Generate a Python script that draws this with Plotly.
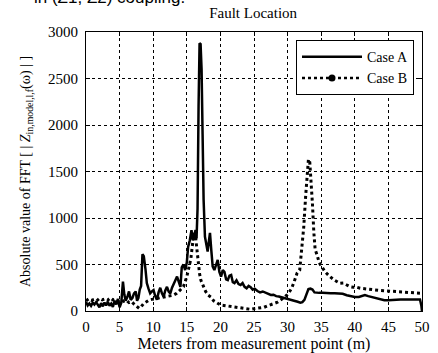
import plotly.graph_objects as go

# Case A (solid)
case_a_x = [0, 0.25, 0.5, 0.75, 1.0, 1.25, 1.5, 1.75, 2.0, 2.25, 2.5, 2.75, 3.0, 3.25, 3.5, 3.75,
            4.0, 4.25, 4.5, 4.75, 5.0, 5.25, 5.5, 5.7, 5.9, 6.15, 6.4, 6.65, 6.9, 7.15, 7.4, 7.6,
            7.8, 8.0, 8.2, 8.4, 8.6, 8.85, 9.05, 9.3, 9.55, 9.8, 10.05, 10.3, 10.55, 10.8, 11.05,
            11.3, 11.55, 11.8, 12.05, 12.3, 12.55, 12.8, 13.05, 13.3, 13.55, 13.8, 14.05, 14.25,
            14.5, 14.75, 15.0, 15.2, 15.45, 15.7, 15.9, 16.1, 16.3, 16.45, 16.6, 16.75, 16.9,
            17.05, 17.2, 17.35, 17.5, 17.7, 17.9, 18.1, 18.3, 18.45, 18.65, 18.85, 19.1, 19.35,
            19.6, 19.85, 20.1, 20.35, 20.6, 20.85, 21.1, 21.35, 21.6, 21.85, 22.1, 22.4, 22.7,
            23.0, 23.3, 23.6, 23.9, 24.2, 24.5, 24.8, 25.1, 25.5, 25.9, 26.3, 26.7, 27.1, 27.5,
            27.9, 28.3, 28.7, 29.1, 29.5, 29.9, 30.3, 30.7, 31.1, 31.5, 31.9, 32.2, 32.5, 32.8,
            33.1, 33.4, 33.7, 34.0, 34.3, 34.7, 35.2, 35.8, 36.4, 37.0, 37.6, 38.2, 38.8, 39.4,
            40.0, 40.6, 41.1, 41.5, 42.0, 42.6, 43.2, 43.8, 44.4, 45.0, 45.6, 46.2, 46.8, 47.4,
            48.0, 48.6, 49.2, 49.7, 49.9, 50.0]
case_a_y = [100, 60, 80, 55, 90, 70, 95, 65, 40, 85, 50, 90, 60, 100, 55, 80,
            45, 110, 70, 130, 40, 90, 315, 180, 110, 150, 210, 120, 140, 190, 210, 110,
            140, 230, 270, 610, 590, 450, 300, 240, 190, 210, 225, 160, 120, 200, 250,
            190, 155, 220, 260, 210, 190, 250, 300, 330, 370, 300, 260, 470,
            500, 440, 520, 690, 760, 870, 760, 800, 870, 780, 1100, 2200, 2880,
            2870, 2600, 1900, 1200, 800, 690, 640, 760, 840, 650, 480, 440, 500,
            550, 420, 370, 440, 420, 340, 333, 380, 387, 310, 300, 330, 290,
            280, 300, 260, 244, 270, 255, 230, 240, 215, 200, 210, 200, 185, 172,
            175, 160, 155, 148, 140, 135, 128, 120, 110, 100, 90, 95, 120, 190,
            235, 240, 230, 200, 195, 195, 195, 197, 192, 190, 190, 185, 170, 160,
            150, 150, 165, 172, 160, 148, 135, 125, 115, 115, 120, 122, 125, 125,
            125, 128, 126, 125, 60, 0]

# Case B (dotted)
case_b_x = [0, 0.4, 0.8, 1.2, 1.6, 2.0, 2.4, 2.8, 3.2, 3.6, 4.0, 4.4, 4.8, 5.2, 5.6, 6.0, 6.4,
            6.8, 7.2, 7.6, 7.9, 8.2, 8.6, 9.0, 9.4, 9.8, 10.2, 10.6, 11.0, 11.5, 12.0, 12.5,
            13.0, 13.5, 14.0, 14.5, 15.0, 15.3, 15.6, 15.9, 16.1, 16.3, 16.5, 16.7, 16.9, 17.1,
            17.4, 17.8, 18.2, 18.6, 19.0, 19.5, 20.0, 20.5, 21.0, 21.5, 22.0, 22.5, 23.0, 23.5,
            24.0, 24.5, 25.0, 25.5, 26.0, 26.5, 27.0, 27.5, 28.0, 28.5, 29.0, 29.5, 29.9, 30.3,
            30.6, 31.0, 31.4, 31.8, 32.1, 32.4, 32.7, 32.9, 33.1, 33.3, 33.5, 33.7, 33.9, 34.1,
            34.4, 34.7, 35.1, 35.6, 36.3, 37.0, 37.8, 38.3, 38.8, 39.3, 39.8, 40.3, 40.8, 41.3,
            41.8, 42.3, 42.8, 43.3, 43.8, 44.3, 44.8, 45.3, 45.8, 46.3, 46.8, 47.3, 47.8, 48.3,
            48.8, 49.3, 49.8, 50.0]
case_b_y = [110, 130, 115, 125, 110, 135, 120, 130, 115, 140, 120, 130, 110, 125, 105, 115, 90,
            100, 70, 40, 29, 45, 83, 100, 118, 125, 130, 135, 140, 145, 150, 160,
            170, 190, 220, 260, 370, 450, 560, 750, 840, 800, 650, 520, 400, 330,
            280, 210, 170, 150, 110, 85, 65, 60, 55, 50, 45, 35, 30, 30,
            25, 18, 25, 30, 35, 40, 55, 70, 80, 95, 120, 150, 172, 210,
            244, 320, 405, 440, 650, 900, 1250, 1500, 1630, 1600, 1400, 1150, 850, 660,
            600, 520, 475, 420, 370, 330, 297, 300, 280, 261, 255, 255, 245, 240,
            235, 233, 228, 222, 220, 218, 215, 212, 210, 208, 205, 205, 200, 200,
            198, 195, 192, 190]

x_ticks = [0, 5, 10, 15, 20, 25, 30, 35, 40, 45, 50]
y_ticks = [0, 500, 1000, 1500, 2000, 2500, 3000]

serif = "Liberation Serif, Times New Roman, serif"

fig = go.Figure()
fig.add_trace(go.Scatter(x=case_a_x, y=case_a_y, mode="lines", name="Case A",
                         line=dict(color="black", width=2.5)))
fig.add_trace(go.Scatter(x=case_b_x, y=case_b_y, mode="lines", name="Case B",
                         showlegend=False,
                         line=dict(color="black", width=3, dash="dot")))
fig.add_trace(go.Scatter(x=[None], y=[None], mode="lines+markers", name="Case B",
                         line=dict(color="black", width=2.5, dash="dot"),
                         marker=dict(color="black", size=7, symbol="circle")))

axis_common = dict(showline=True, linecolor="black", linewidth=1, mirror="ticks",
                   ticks="inside", ticklen=4, tickcolor="black", automargin=False,
                   showgrid=True, gridcolor="black", gridwidth=1, griddash="dot",
                   zeroline=False, tickfont=dict(family=serif, size=15, color="black"))

fig.update_xaxes(range=[0, 50], tickvals=x_ticks, ticktext=[str(v) for v in x_ticks],
                 ticklabelstandoff=2,
                 title=dict(text="Meters from measurement point (m)",
                            font=dict(family=serif, size=16, color="black"), standoff=4),
                 **axis_common)
fig.update_yaxes(range=[0, 3000], tickvals=y_ticks, ticktext=[str(v) for v in y_ticks],
                 ticklabelstandoff=4,
                 title=dict(text="Absolute value of FFT [ | <i>Z</i><sub>in,model,l,f</sub>(ω) | ]",
                            font=dict(family=serif, size=14, color="black"), standoff=14),
                 **axis_common)

fig.update_layout(
    width=438, height=353,
    margin=dict(l=86, r=16, t=32, b=42),
    paper_bgcolor="white", plot_bgcolor="white",
    title=dict(text="Fault Location", x=0.578, xanchor="center", y=0.963, yanchor="middle",
               font=dict(family=serif, size=15, color="black")),
    legend=dict(x=0.625, y=0.971, xanchor="left", yanchor="top",
                bgcolor="white", bordercolor="black", borderwidth=1,
                font=dict(family=serif, size=14, color="black"),
                tracegroupgap=0, itemwidth=60),
    annotations=[dict(text="in (Z1, Z2) coupling.", xref="paper", yref="paper",
                      x=-0.16, y=1.125, xanchor="left", yanchor="middle", showarrow=False,
                      font=dict(family="Liberation Sans, Arial, sans-serif", size=17, color="black"))],
)

fig.write_html("out.html")
